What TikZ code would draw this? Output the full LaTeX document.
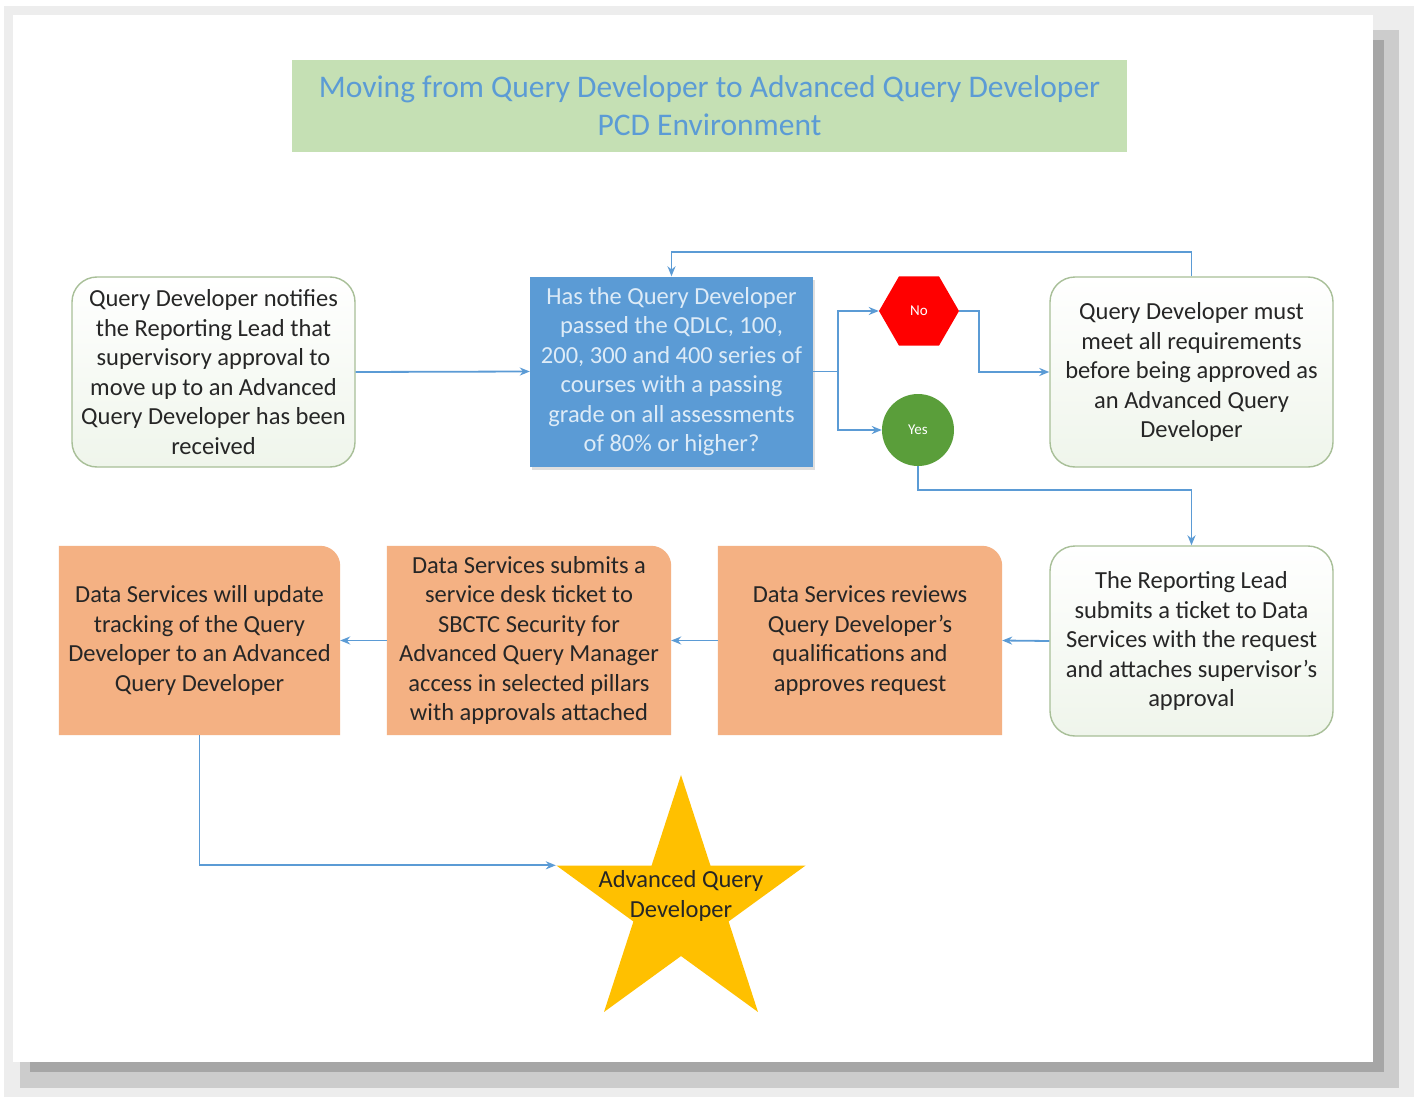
\documentclass[tikz,border=0pt]{standalone}
\usepackage{fontspec}
\setmainfont{Carlito}
\usetikzlibrary{arrows.meta}
\usetikzlibrary{shapes.geometric}
\usetikzlibrary{shadows}
\usetikzlibrary{backgrounds}

\definecolor{linkblue}{HTML}{5B9BD5}
\definecolor{titlegreen}{HTML}{C5E0B4}
\definecolor{stepfill}{HTML}{F4B183}
\definecolor{boxedge}{HTML}{A8BF98}
\definecolor{paleground}{HTML}{EFF5EB}
\definecolor{bodytext}{HTML}{262626}
\definecolor{asklight}{HTML}{DDEBF7}
\definecolor{nored}{HTML}{FF0000}
\definecolor{yesgreen}{HTML}{5A9E3A}
\definecolor{stargold}{HTML}{FFC000}

\newcommand{\boxfont}{\fontsize{24.5}{29.5}\selectfont}
\newcommand{\headfont}{\fontsize{31.5}{38}\selectfont}

\tikzset{
  flow/.style={draw=linkblue, line width=1.8pt, -{Stealth[length=10pt,width=8pt]}},
  card/.style={minimum width=283pt, minimum height=190pt, align=center, inner sep=0pt, font=\boxfont, text=bodytext},
  whitebox/.style={card, draw=boxedge, line width=1.4pt, rounded corners=25pt, top color=white, bottom color=paleground},
  askbox/.style={card, fill=linkblue, text=asklight, drop shadow={shadow xshift=2pt, shadow yshift=-3pt, opacity=.25}},
  orangebox/.style={card, minimum width=284pt, minimum height=189pt},
  answer/.style={inner sep=0pt, text=white, font=\fontsize{15}{17}\selectfont},
}

\begin{document}
\begin{tikzpicture}[x=1pt, y=-1pt]
    \useasboundingbox (0,0) rectangle (1414,1097);

    \node[fill=titlegreen, minimum width=835pt, minimum height=92pt, inner sep=0pt, align=center, text=linkblue, font=\headfont] (title) at (709.5,106) {Moving from Query Developer to Advanced Query Developer\\PCD Environment};

    \node[whitebox] (notify) at (213.5,372) {Query Developer notifies\\the Reporting Lead that\\supervisory approval to\\move up to an Advanced\\Query Developer has been\\received};
    \node[askbox] (quest) at (671.5,371.5) {Has the Query Developer\\passed the QDLC, 100,\\200, 300 and 400 series of\\courses with a passing\\grade on all assessments\\of 80\% or higher?};
    \node[regular polygon, regular polygon sides=6, minimum size=80pt, fill=nored, answer] (no) at (919,311) {No};
    \node[circle, minimum size=72pt, fill=yesgreen, answer] (yes) at (918,430) {Yes};
    \node[whitebox] (must) at (1191.5,372) {Query Developer must\\meet all requirements\\before being approved as\\an Advanced Query\\Developer};
    \node[whitebox] (lead) at (1191.5,641) {The Reporting Lead\\submits a ticket to Data\\Services with the request\\and attaches supervisor’s\\approval};
    \node[orangebox] (review) at (860,640.5) {Data Services reviews\\Query Developer’s\\qualifications and\\approves request};
    \node[orangebox] (submit) at (529,640.5) {Data Services submits a\\service desk ticket to\\SBCTC Security for\\Advanced Query Manager\\access in selected pillars\\with approvals attached};
    \node[orangebox, minimum width=281pt] (update) at (199.5,640.5) {Data Services will update\\tracking of the Query\\Developer to an Advanced\\Query Developer};
    \node[star, star points=5, star point ratio=2.618, minimum size=262pt, inner sep=0pt, fill=stargold] (goal) at (681,906) {};
    \node[align=center, font=\boxfont, text=bodytext] (goaltext) at (681,896) {Advanced Query\\Developer};

    \begin{scope}[on background layer]
        \fill[black!7] (4,6) rectangle (1414,1097);
        \fill[black!20] (20,30) rectangle (1399,1088);
        \fill[black!35] (30,40) rectangle (1384,1072);
        \fill[white] (13,15) rectangle (1373,1062);
        \foreach \n in {review,submit,update}
            \fill[stepfill] (\n.south west) -- (\n.north west) -- ([xshift=-20pt]\n.north east)
                arc[start angle=90, end angle=0, radius=20pt] -- (\n.south east) -- cycle;
    \end{scope}

    \draw[flow] (notify.east) -- (quest.west);
    \draw[flow] (quest.east) -- ++(25,0) |- (no.west);
    \draw[flow] (quest.east) -- ++(25,0) |- (yes.west);
    \draw[flow] (no.east) -- ++(20,0) |- (must.west);
    \draw[flow] (must.north) -- ++(0,-24) -| (quest.north);
    \draw[flow] (yes.south) -- ++(0,24) -| (lead.north);
    \draw[flow] (lead.west) -- (review.east);
    \draw[flow] (review.west) -- (submit.east);
    \draw[flow] (submit.west) -- (update.east);
    \draw[flow] (update.south) |- (goal.outer point 2);
\end{tikzpicture}
\end{document}
